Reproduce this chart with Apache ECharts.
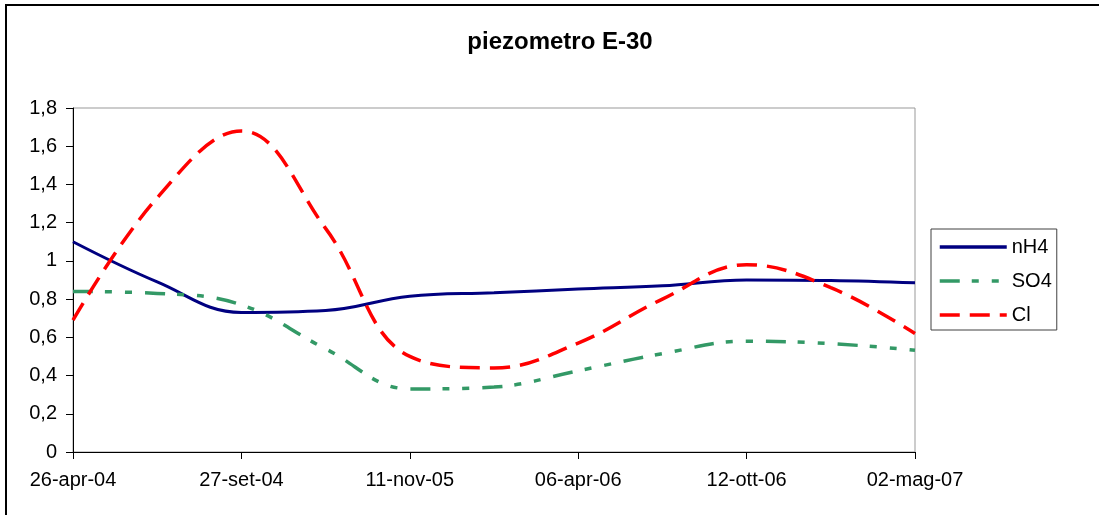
<!DOCTYPE html>
<html>
<head>
<meta charset="utf-8">
<script src="https://cdn.jsdelivr.net/npm/echarts@6/dist/echarts.min.js"></script>
<style>
  html, body { margin: 0; padding: 0; background: #fff; }
  #main { width: 1099px; height: 515px; }
</style>
</head>
<body>
<div id="main"></div>
<script>
// sample dates (only every second one is labelled on the axis)
var categories = ['26-apr-04', '', '27-set-04', '', '11-nov-05', '', '06-apr-06', '', '12-ott-06', '', '02-mag-07'];

var nH4 = [1.10, 0.89, 0.73, 0.74, 0.815, 0.833, 0.853, 0.87, 0.90, 0.897, 0.885];
var SO4 = [0.84, 0.83, 0.77, 0.54, 0.33, 0.34, 0.425, 0.515, 0.58, 0.567, 0.533];
var Cl  = [0.69, 1.33, 1.68, 1.17, 0.50, 0.44, 0.57, 0.80, 0.98, 0.86, 0.62];

var font = 'Liberation Sans, Arial, sans-serif';

var chart = echarts.init(document.getElementById('main'));

var option = {
  backgroundColor: '#fff',
  animation: false,
  title: {
    text: 'piezometro E-30',
    left: 555,
    textAlign: 'center',
    top: 25,
    textStyle: { fontFamily: font, fontSize: 24, fontWeight: 'bold', color: '#000' }
  },
  // outer chart frame
  graphic: [{
    type: 'rect',
    shape: { x: 6, y: 5, width: 1100, height: 520 },
    style: { fill: 'none', stroke: '#000', lineWidth: 2 },
    silent: true
  }],
  legend: {
    orient: 'vertical',
    left: 931,
    top: 229,
    padding: [8, 5, 5, 7],
    itemGap: 14,
    itemWidth: 67,
    itemHeight: 20,
    borderColor: '#404040',
    borderWidth: 1,
    itemStyle: { opacity: 0 },
    lineStyle: { width: 3.5 },
    textStyle: { fontFamily: font, fontSize: 20, color: '#000', lineHeight: 20 },
    data: ['nH4', 'SO4', 'Cl']
  },
  grid: {
    left: 73,
    right: 184,
    top: 108,
    bottom: 63,
    show: true,
    borderColor: '#999',
    borderWidth: 1,
    containLabel: false
  },
  xAxis: {
    type: 'category',
    data: categories,
    boundaryGap: false,
    axisLine: { lineStyle: { color: '#000', width: 1 } },
    axisTick: { show: true, interval: 1, length: 7, lineStyle: { color: '#000' } },
    axisLabel: { interval: 1, margin: 18, fontFamily: font, fontSize: 20, color: '#000' },
    splitLine: { show: false }
  },
  yAxis: {
    type: 'value',
    min: 0,
    max: 1.8,
    interval: 0.2,
    axisLine: { show: true, lineStyle: { color: '#000', width: 1 } },
    axisTick: { show: true, length: 7, lineStyle: { color: '#000' } },
    axisLabel: {
      margin: 16,
      fontFamily: font,
      fontSize: 20,
      color: '#000',
      formatter: function (v) { return String(+v.toFixed(1)).replace('.', ','); }
    },
    splitLine: { show: false }
  },
  series: [
    {
      name: 'nH4',
      type: 'line',
      data: nH4,
      smooth: 0.4,
      symbol: 'none',
      color: '#000080',
      lineStyle: { color: '#000080', width: 3 }
    },
    {
      name: 'SO4',
      type: 'line',
      data: SO4,
      smooth: 0.4,
      symbol: 'none',
      color: '#339966',
      lineStyle: { color: '#339966', width: 3.5, type: [20, 12, 7, 13, 7, 13] }
    },
    {
      name: 'Cl',
      type: 'line',
      data: Cl,
      smooth: 0.4,
      symbol: 'none',
      color: '#ff0000',
      lineStyle: { color: '#ff0000', width: 3.5, type: [20, 10] }
    }
  ]
};

chart.setOption(option);
</script>
</body>
</html>
